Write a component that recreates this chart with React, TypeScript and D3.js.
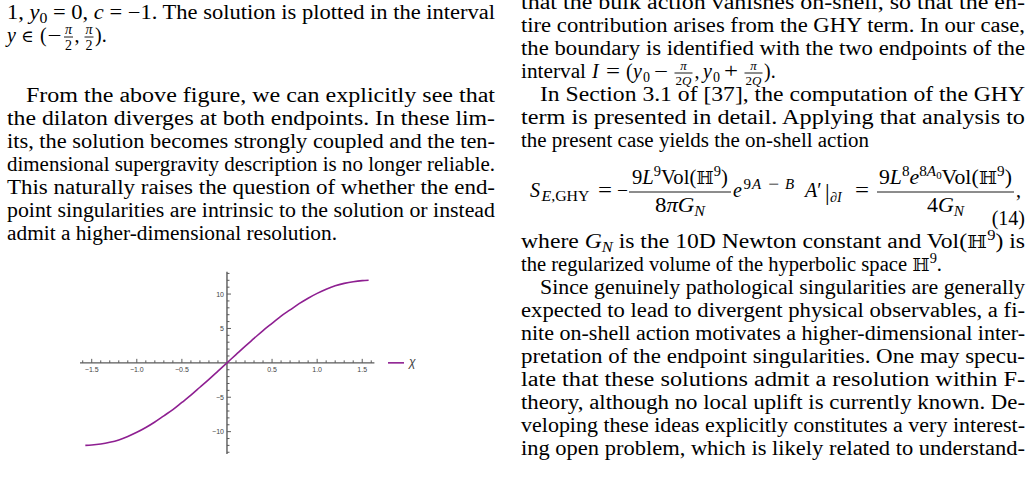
import React from 'react';
import * as d3 from 'd3';

const WIDTH = 1032;
const HEIGHT = 477;
const SERIF = "'Liberation Serif', 'DejaVu Serif', serif";
const SYM = "'DejaVu Serif', 'DejaVu Sans', 'Liberation Serif', serif";
const SANS = "'Liberation Sans', 'DejaVu Sans', Arial, sans-serif";
const FS = 20;
const SCRIPT = 14;
const INK = '#000';

// ---- plot data: the solution chi(y)
const yValues = [
  -1.5708, -1.5, -1.4, -1.3, -1.2, -1.1, -1.0, -0.9, -0.8, -0.7, -0.6, -0.5, -0.4, -0.3, -0.2, -0.1,
  0, 0.1, 0.2, 0.3, 0.4, 0.5, 0.6, 0.7, 0.8, 0.9, 1.0, 1.1, 1.2, 1.3, 1.4, 1.5, 1.5708,
];
const chiValues = [
  -12.0, -11.95, -11.8, -11.55, -11.2, -10.7, -10.1, -9.4, -8.6, -7.7, -6.8, -5.75, -4.7, -3.55, -2.4, -1.2,
  0, 1.2, 2.4, 3.55, 4.7, 5.75, 6.8, 7.7, 8.6, 9.4, 10.1, 10.7, 11.2, 11.55, 11.8, 11.95, 12.0,
];
const xMajorTicks = [-1.5, -1.0, -0.5, 0.5, 1.0, 1.5];
const xTickLabels = ['\u22121.5', '\u22121.0', '\u22120.5', '0.5', '1.0', '1.5'];
const yMajorTicks = [-10, -5, 5, 10];
const yTickLabels = ['\u221210', '\u22125', '5', '10'];
const legendLabel = '\u03c7';
const plotColor = '#8e1f91';

// ---- text of the two columns
const leftParagraph = [
  'From the above figure, we can explicitly see that',
  'the dilaton diverges at both endpoints. In these lim-',
  'its, the solution becomes strongly coupled and the ten-',
  'dimensional supergravity description is no longer reliable.',
  'This naturally raises the question of whether the end-',
  'point singularities are intrinsic to the solution or instead',
  'admit a higher-dimensional resolution.',
];
const rightTop = [
  'that the bulk action vanishes on-shell, so that the en-',
  'tire contribution arises from the GHY term. In our case,',
  'the boundary is identified with the two endpoints of the',
];
const rightMiddle = [
  'In Section 3.1 of [37], the computation of the GHY',
  'term is presented in detail. Applying that analysis to',
  'the present case yields the on-shell action',
];
const rightBottom = [
  'Since genuinely pathological singularities are generally',
  'expected to lead to divergent physical observables, a fi-',
  'nite on-shell action motivates a higher-dimensional inter-',
  'pretation of the endpoint singularities. One may specu-',
  'late that these solutions admit a resolution within F-',
  'theory, although no local uplift is currently known. De-',
  'veloping these ideas explicitly constitutes a very interest-',
  'ing open problem, which is likely related to understand-',
];

const L0 = 7;
const L1 = 495;
const R0 = 521;
const R1 = 1025;
const INDENT = 19;
const LEAD = 23;

const Line: React.FC<{ x: number; y: number; w?: number; fs?: number; children: React.ReactNode }> = ({ x, y, w, fs, children }) => (
  <text x={x} y={y} textLength={w} lengthAdjust={w ? 'spacingAndGlyphs' : undefined}
    fontFamily={SERIF} fontSize={fs || FS} fill={INK}>
    {children}
  </text>
);

// small helper for a stacked fraction; numW / denW stretch the rows to the measured widths
const Frac: React.FC<{ x0: number; x1: number; bar: number; numY: number; denY: number; fs: number;
  num: React.ReactNode; den: React.ReactNode; numW?: number; denW?: number }> =
  ({ x0, x1, bar, numY, denY, fs, num, den, numW, denW }) => {
  const cx = (x0 + x1) / 2;
  const row = (y: number, w: number | undefined, content: React.ReactNode) =>
    w ? (
      <text x={cx - w / 2} y={y} textLength={w} lengthAdjust="spacingAndGlyphs" fontFamily={SERIF} fontSize={fs} fill={INK}>{content}</text>
    ) : (
      <text x={cx} y={y} textAnchor="middle" fontFamily={SERIF} fontSize={fs} fill={INK}>{content}</text>
    );
  return (
    <g>
      {row(numY, numW, num)}
      <line x1={x0} x2={x1} y1={bar} y2={bar} stroke={INK} strokeWidth={0.9} />
      {row(denY, denW, den)}
    </g>
  );
};

const I: React.FC<{ children: React.ReactNode }> = ({ children }) => <tspan fontStyle="italic">{children}</tspan>;

function Plot() {
  const x = d3.scaleLinear().domain([-1.63, 1.635]).range([80, 374.4]);
  const y = d3.scaleLinear().domain([-13.25, 13.25]).range([454, 271.7]);
  const x0 = x(0);
  const y0 = y(0);
  const pts = yValues.map((v, i) => [v, chiValues[i]] as [number, number]);
  const path = d3.line<[number, number]>().x(d => x(d[0])).y(d => y(d[1])).curve(d3.curveMonotoneX)(pts);
  const xMinor = d3.range(-16, 17).map(i => i / 10).filter(v => Math.abs(v) > 1e-9);
  const yMinor = d3.range(-13, 14).filter(v => v !== 0);
  const axisColor = '#5a5a5a';
  return (
    <g>
      {/* axes */}
      <line x1={x(-1.63)} x2={x(1.635)} y1={y0} y2={y0} stroke={axisColor} strokeWidth={1.4} />
      <line x1={x0} x2={x0} y1={y(-13.25)} y2={y(13.25)} stroke={axisColor} strokeWidth={1.4} />
      {xMinor.map(v => {
        const major = xMajorTicks.some(m => Math.abs(m - v) < 1e-9);
        return <line key={'xm' + v} x1={x(v)} x2={x(v)} y1={y0} y2={y0 - (major ? 4 : 2.5)} stroke={axisColor} strokeWidth={1} />;
      })}
      {yMinor.map(v => {
        const major = yMajorTicks.includes(v);
        return <line key={'ym' + v} x1={x0} x2={x0 + (major ? 4 : 2.5)} y1={y(v)} y2={y(v)} stroke={axisColor} strokeWidth={1} />;
      })}
      {xMajorTicks.map((v, i) => (
        <text key={'xl' + v} x={x(v)} y={y0 + 9.5} textAnchor="middle" fontFamily={SANS} fontSize={7} fill="#444">{xTickLabels[i]}</text>
      ))}
      {yMajorTicks.map((v, i) => (
        <text key={'yl' + v} x={x0 - 3} y={y(v) + 2.5} textAnchor="end" fontFamily={SANS} fontSize={7} fill="#444">{yTickLabels[i]}</text>
      ))}
      <path d={path || ''} fill="none" stroke={plotColor} strokeWidth={1.6} />
      {/* legend */}
      <line x1={388} x2={404} y1={y0} y2={y0} stroke={plotColor} strokeWidth={1.6} />
      <text x={409} y={y0 + 3.5} fontFamily={SANS} fontStyle="italic" fontSize={12} fill="#444">{legendLabel}</text>
    </g>
  );
}

export default function App() {
  const eqY = 197;
  const ivY = 78;
  const supY = eqY - 8.5;
  return (
    <svg width={WIDTH} height={HEIGHT} viewBox={`0 0 ${WIDTH} ${HEIGHT}`}
      style={{ position: 'absolute', left: 0, top: 0, display: 'block', background: '#fff' }}>
      <rect width={WIDTH} height={HEIGHT} fill="#fff" />

      {/* ---------- left column ---------- */}
      <Line x={L0} y={19} w={L1 - L0}>
        1, <I>y</I><tspan fontSize={SCRIPT} dy={4}>0</tspan><tspan dy={-4}> = 0, </tspan><I>c</I> = −1. The solution is plotted in the interval
      </Line>
      <g fontFamily={SERIF} fontSize={FS} fill={INK}>
        <text x={7} y={42} fontStyle="italic">y</text>
        <text x={21} y={42} fontFamily={SYM} fontSize={17}>∈</text>
        <text x={40} y={42}>(</text>
        <text x={47.5} y={42} textLength={14} lengthAdjust="spacingAndGlyphs">−</text>
        <text x={74.5} y={42}>,</text>
        <text x={95} y={42}>).</text>
      </g>
      <Frac x0={64} x1={73} bar={37} numY={34} denY={49.5} fs={SCRIPT} num={<I>π</I>} den="2" />
      <Frac x0={84.5} x1={93.5} bar={37} numY={34} denY={49.5} fs={SCRIPT} num={<I>π</I>} den="2" />

      {leftParagraph.map((t, i) => {
        const last = i === leftParagraph.length - 1;
        const x = i === 0 ? L0 + INDENT : L0;
        return <Line key={'lp' + i} x={x} y={102 + i * LEAD} w={last ? 330 : L1 - x}>{t}</Line>;
      })}

      <Plot />

      {/* ---------- right column ---------- */}
      {rightTop.map((t, i) => (
        <Line key={'rt' + i} x={R0} y={9 + i * LEAD} w={R1 - R0}>{t}</Line>
      ))}
      {/* interval line */}
      <Line x={R0} y={ivY} w={65}>interval</Line>
      <g fontFamily={SERIF} fontSize={FS} fill={INK}>
        <text x={592} y={ivY} fontStyle="italic">I</text>
        <text x={606} y={ivY} textLength={14} lengthAdjust="spacingAndGlyphs">=</text>
        <text x={626} y={ivY}>(</text>
        <text x={633} y={ivY} fontStyle="italic">y</text>
        <text x={643} y={ivY + 4} fontSize={SCRIPT}>0</text>
        <text x={654} y={ivY} textLength={14} lengthAdjust="spacingAndGlyphs">−</text>
        <text x={694.5} y={ivY}>,</text>
        <text x={703} y={ivY} fontStyle="italic">y</text>
        <text x={713} y={ivY + 4} fontSize={SCRIPT}>0</text>
        <text x={724} y={ivY} textLength={14} lengthAdjust="spacingAndGlyphs">+</text>
        <text x={764} y={ivY}>).</text>
      </g>
      <Frac x0={674.5} x1={692.5} bar={ivY - 5} numY={ivY - 8} denY={ivY + 7} fs={13} num={<I>π</I>} den={<>2<I>Q</I></>} />
      <Frac x0={744.5} x1={762.5} bar={ivY - 5} numY={ivY - 8} denY={ivY + 7} fs={13} num={<I>π</I>} den={<>2<I>Q</I></>} />

      {rightMiddle.map((t, i) => {
        const last = i === rightMiddle.length - 1;
        const x = i === 0 ? R0 + INDENT : R0;
        return <Line key={'rm' + i} x={x} y={101 + i * LEAD} w={last ? 348 : R1 - x}>{t}</Line>;
      })}

      {/* ---------- equation (14) ---------- */}
      <g fontFamily={SERIF} fontSize={FS} fill={INK}>
        <text x={530} y={eqY} fontStyle="italic">S</text>
        <text x={541.5} y={eqY + 4} fontSize={SCRIPT} textLength={48} lengthAdjust="spacingAndGlyphs"><I>E</I>,GHY</text>
        <text x={598} y={eqY} textLength={14} lengthAdjust="spacingAndGlyphs">=</text>
        <text x={617} y={eqY} textLength={11} lengthAdjust="spacingAndGlyphs">−</text>
        <text x={733} y={eqY} fontStyle="italic">e</text>
      </g>
      <g fontFamily={SERIF} fontSize={15} fill={INK}>
        <text x={743.5} y={supY}>9</text>
        <text x={752} y={supY} fontStyle="italic">A</text>
        <text x={768} y={supY} textLength={11} lengthAdjust="spacingAndGlyphs">−</text>
        <text x={785} y={supY} fontStyle="italic">B</text>
      </g>
      <g fontFamily={SERIF} fontSize={FS} fill={INK}>
        <text x={805} y={eqY}><I>A</I>′</text>
        <text x={825} y={eqY + 3} fontSize={23}>|</text>
        <text x={830} y={eqY + 5} fontSize={SCRIPT}><I>∂I</I></text>
        <text x={855} y={eqY} textLength={14} lengthAdjust="spacingAndGlyphs">=</text>
        <text x={1016} y={eqY}>,</text>
      </g>
      <Frac x0={629} x1={731} bar={eqY - 5} numY={eqY - 13} denY={eqY + 15} fs={FS} numW={96} denW={50}
        num={<>9<I>L</I><tspan fontSize={SCRIPT} dy={-8}>9</tspan><tspan dy={8}>Vol(</tspan><tspan fontFamily={SYM} fontSize={18}>ℍ</tspan><tspan fontSize={SCRIPT} dy={-8}>9</tspan><tspan dy={8}>)</tspan></>}
        den={<>8<I>πG</I><tspan fontSize={SCRIPT} dy={4} fontStyle="italic">N</tspan></>} />
      <Frac x0={877} x1={1014} bar={eqY - 5} numY={eqY - 13} denY={eqY + 15} fs={FS} numW={133} denW={37}
        num={<>9<I>L</I><tspan fontSize={SCRIPT} dy={-8}>8</tspan><tspan dy={8} fontStyle="italic">e</tspan><tspan fontSize={SCRIPT} dy={-8}>8<I>A</I></tspan><tspan fontSize={10} dy={3}>0</tspan><tspan dy={5}>Vol(</tspan><tspan fontFamily={SYM} fontSize={18}>ℍ</tspan><tspan fontSize={SCRIPT} dy={-8}>9</tspan><tspan dy={8}>)</tspan></>}
        den={<>4<I>G</I><tspan fontSize={SCRIPT} dy={4} fontStyle="italic">N</tspan></>} />
      <text x={R1} y={225} textAnchor="end" fontFamily={SERIF} fontSize={FS} fill={INK}>(14)</text>

      <Line x={R0} y={248} w={R1 - R0}>
        where <I>G</I><tspan fontSize={SCRIPT} dy={4} fontStyle="italic">N</tspan><tspan dy={-4}> is the 10D Newton constant and Vol(</tspan><tspan fontFamily={SYM} fontSize={18}>ℍ</tspan><tspan fontSize={SCRIPT} dy={-8}>9</tspan><tspan dy={8}>) is</tspan>
      </Line>
      <Line x={R0} y={248 + LEAD} w={421}>
        the regularized volume of the hyperbolic space <tspan fontFamily={SYM} fontSize={18}>ℍ</tspan><tspan fontSize={SCRIPT} dy={-8}>9</tspan><tspan dy={8}>.</tspan>
      </Line>
      {rightBottom.map((t, i) => {
        const x = i === 0 ? R0 + INDENT : R0;
        return <Line key={'rb' + i} x={x} y={248 + (i + 2) * LEAD} w={R1 - x}>{t}</Line>;
      })}
    </svg>
  );
}
